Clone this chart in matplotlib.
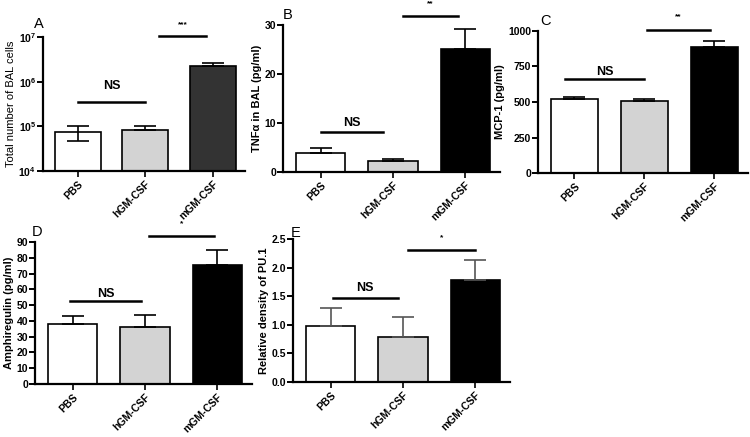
import matplotlib
matplotlib.use("Agg")
import matplotlib.pyplot as plt
from matplotlib.ticker import LogLocator, LogFormatterMathtext

plt.rcParams["font.family"] = ["Liberation Sans", "DejaVu Sans"]
plt.rcParams["font.weight"] = "bold"
plt.rcParams["mathtext.default"] = "bf"

groups = ["PBS", "hGM-CSF", "mGM-CSF"]

# panel values (mean, lower err, upper err)
bal_cells = [7.3e4, 8.4e4, 2.27e6]
bal_lo = [2.6e4, 0, 0]
bal_hi = [2.7e4, 1.6e4, 0.33e6]

tnf = [3.85, 2.2, 25.1]
tnf_hi = [1.15, 0.4, 4.0]

mcp1 = [519, 509, 888]
mcp1_hi = [18, 12, 40]

areg = [38.2, 36.1, 75.6]
areg_hi = [4.9, 7.8, 9.1]

pu1 = [0.98, 0.78, 1.78]
pu1_hi = [0.31, 0.36, 0.35]

W, H = 750, 437


def px_axes(fig, left, top, right, bottom):
    return fig.add_axes([left / W, 1 - bottom / H, (right - left) / W, (bottom - top) / H])


def style(ax, ylabel):
    for s in ("top", "right"):
        ax.spines[s].set_visible(False)
    for s in ("left", "bottom"):
        ax.spines[s].set_linewidth(1.6)
    ax.tick_params(axis="y", direction="out", length=4, width=1.4, labelsize=7.5, pad=1)
    ax.tick_params(axis="x", direction="out", length=4, width=1.2, labelsize=7.5, pad=2)
    ax.set_xticks(range(len(groups)))
    ax.set_xticklabels(groups, rotation=45, ha="right", rotation_mode="anchor")
    ax.set_xlim(-0.52, 2.48)
    ax.set_ylabel(ylabel, fontsize=8, fontweight="bold", labelpad=2)


def bars(ax, vals, lo, hi, colors, ecolor="black"):
    x = range(len(vals))
    ax.bar(x, vals, width=0.68, color=colors, edgecolor="black", linewidth=1.2, zorder=2)
    ax.errorbar(x, vals, yerr=[lo, hi], fmt="none", ecolor=ecolor, elinewidth=1.2,
                capsize=8, capthick=1.2, zorder=3)


def sig(ax, x0, x1, y, label, ty, size):
    ax.plot([x0, x1], [y, y], color="black", lw=1.8, clip_on=False, zorder=4)
    ax.text((x0 + x1) / 2, ty, label, ha="center", va="center", fontsize=size,
            fontweight="bold", clip_on=False)


fig = plt.figure(figsize=(7.5, 4.37), dpi=100)
fig.patch.set_facecolor("white")

# A
ax = px_axes(fig, 43, 37, 245, 171)
bars(ax, bal_cells, bal_lo, bal_hi, ["white", "#d3d3d3", "#333333"])
ax.set_yscale("log")
ax.set_ylim(1e4, 1e7)
ax.yaxis.set_major_locator(LogLocator(base=10, numticks=5))
ax.yaxis.set_major_formatter(LogFormatterMathtext())
ax.yaxis.set_minor_locator(plt.NullLocator())
style(ax, "Total number of BAL cells")
ax.yaxis.label.set_fontweight("normal")
sig(ax, 0, 1, 3.5e5, "NS", 8.0e5, 9)
sig(ax, 1.2, 1.9, 1.05e7, "***", 1.9e7, 6)
fig.text(39 / W, 1 - 24 / H, "A", fontsize=10.5, fontweight="normal", ha="center", va="center")

# B
ax = px_axes(fig, 283, 25, 500, 172)
bars(ax, tnf, [0, 0, 0], tnf_hi, ["white", "#d3d3d3", "black"])
ax.set_ylim(0, 30)
ax.set_yticks([0, 10, 20, 30])
style(ax, "TNFα in BAL (pg/ml)")
sig(ax, 0, 0.86, 8.2, "NS", 10.0, 9)
sig(ax, 1.14, 1.9, 31.8, "**", 34.3, 6)
fig.text(283 / W, 1 - 15 / H, "B", fontsize=10.5, fontweight="normal", ha="left", va="center")

# C
ax = px_axes(fig, 538, 31, 748, 173)
bars(ax, mcp1, [0, 0, 0], mcp1_hi, ["white", "#d3d3d3", "black"])
ax.set_ylim(0, 1000)
ax.set_yticks([0, 250, 500, 750, 1000])
style(ax, "MCP-1 (pg/ml)")
sig(ax, -0.14, 1.0, 659, "NS", 712, 9)
sig(ax, 1.04, 1.93, 1009, "**", 1098, 6)
fig.text(540 / W, 1 - 21 / H, "C", fontsize=10.5, fontweight="normal", ha="left", va="center")

# D
ax = px_axes(fig, 35, 242, 252, 384)
bars(ax, areg, [0, 0, 0], areg_hi, ["white", "#d3d3d3", "black"])
ax.set_ylim(0, 90)
ax.set_yticks(range(0, 91, 10))
style(ax, "Amphiregulin (pg/ml)")
sig(ax, -0.03, 0.94, 52.8, "NS", 57.0, 9)
sig(ax, 1.06, 1.96, 94, "*", 101.5, 6)
fig.text(37 / W, 1 - 232 / H, "D", fontsize=10.5, fontweight="normal", ha="center", va="center")

# E
ax = px_axes(fig, 293, 239, 510, 382)
bars(ax, pu1, [0, 0, 0], pu1_hi, ["white", "#d3d3d3", "black"], ecolor="#555555")
ax.set_ylim(0, 2.5)
ax.set_yticks([0.0, 0.5, 1.0, 1.5, 2.0, 2.5])
ax.set_yticklabels(["0.0", "0.5", "1.0", "1.5", "2.0", "2.5"])
style(ax, "Relative density of PU.1")
sig(ax, 0.03, 0.93, 1.47, "NS", 1.64, 9)
sig(ax, 1.07, 1.99, 2.31, "*", 2.53, 6)
fig.text(291 / W, 1 - 233 / H, "E", fontsize=10.5, fontweight="normal", ha="left", va="center")

fig.savefig("out.png", dpi=100)
plt.close(fig)
